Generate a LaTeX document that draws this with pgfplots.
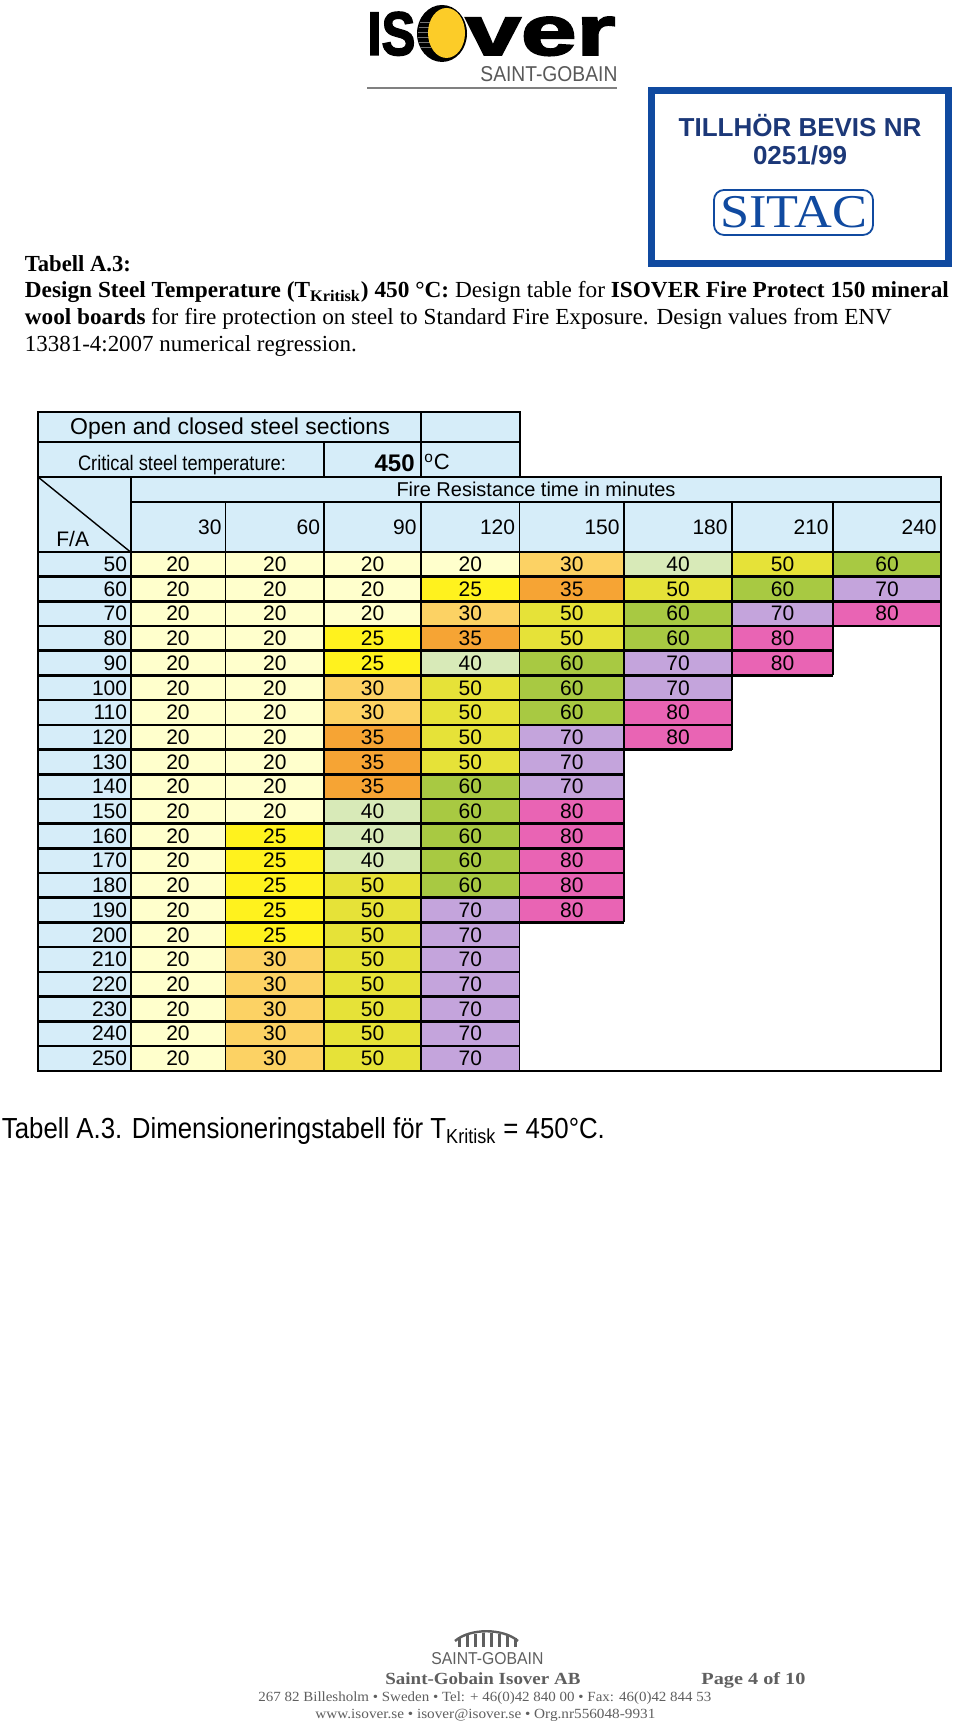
\documentclass[border=0pt]{standalone}
\usepackage{pgfplots}
\pgfplotsset{compat=1.18}
\usepackage{pgfplotstable}
\usepackage{graphicx}
\usepackage{fontspec}
\setmainfont{Liberation Serif}
\newfontfamily\arial{Liberation Sans}
\newfontfamily\logofont[BoldFeatures={FakeBold=2.5}]{Liberation Sans}
\newcommand\tabfont{\arial\fontsize{10.5}{12}\selectfont}

\definecolor{c20}{RGB}{255,255,204}
\definecolor{c25}{RGB}{255,242,30}
\definecolor{c30}{RGB}{252,210,100}
\definecolor{c35}{RGB}{246,164,52}
\definecolor{c40}{RGB}{216,234,184}
\definecolor{c50}{RGB}{230,226,56}
\definecolor{c60}{RGB}{168,201,66}
\definecolor{c70}{RGB}{196,164,220}
\definecolor{c80}{RGB}{233,100,180}
\definecolor{hdr}{RGB}{214,237,249}
\definecolor{sitacframe}{RGB}{16,74,160}
\definecolor{sitactext}{RGB}{28,56,120}
\definecolor{logoyellow}{RGB}{252,204,40}
\definecolor{footgray}{RGB}{95,95,95}

\pgfdeclareplotmark{hdrbox}{%
  \pgfsetfillcolor{hdr}%
  \pgfpathrectangle{\pgfqpoint{-\pgfplotmarksize}{-6.175pt}}{\pgfqpoint{2\pgfplotmarksize}{12.35pt}}%
  \pgfusepathqfill}

% F/A ; required board thickness for each fire resistance time (minutes)
\pgfplotstableread{
fa  c30 c60 c90 c120 c150 c180 c210 c240
50  20  20  20  20   30   40   50   60
60  20  20  20  25   35   50   60   70
70  20  20  20  30   50   60   70   80
80  20  20  25  35   50   60   80   nan
90  20  20  25  40   60   70   80   nan
100 20  20  30  50   60   70   nan  nan
110 20  20  30  50   60   80   nan  nan
120 20  20  35  50   70   80   nan  nan
130 20  20  35  50   70   nan  nan  nan
140 20  20  35  60   70   nan  nan  nan
150 20  20  40  60   80   nan  nan  nan
160 20  25  40  60   80   nan  nan  nan
170 20  25  40  60   80   nan  nan  nan
180 20  25  50  60   80   nan  nan  nan
190 20  25  50  70   80   nan  nan  nan
200 20  25  50  70   nan  nan  nan  nan
210 20  30  50  70   nan  nan  nan  nan
220 20  30  50  70   nan  nan  nan  nan
230 20  30  50  70   nan  nan  nan  nan
240 20  30  50  70   nan  nan  nan  nan
250 20  30  50  70   nan  nan  nan  nan
}\fire

\pgfplotsset{
  % each cell: a node filled with the colour named after its value, one row high, one column wide
  cellplot/.style={draw=none, mark=none, point meta=explicit symbolic, nodes near coords,
    every node near coord/.append style={anchor=center, font=\tabfont, text=black,
      inner sep=0pt, outer sep=0pt, fill=c\pgfplotspointmeta,
      minimum height=12.35pt, minimum width=#1}},
  gridh/.style={black, line width=1.3pt, unbounded coords=jump, mark=none, on layer=axis foreground},
  gridv/.style={black, line width=0.8pt, unbounded coords=jump, mark=none, on layer=axis foreground},
}

\begin{document}
\begin{tikzpicture}
\fill[white] (0,0) rectangle (480pt,861.5pt);
\begin{axis}[at={(0,0)}, anchor=south west, scale only axis, width=480pt, height=861.5pt,
  xmin=0, xmax=960, ymin=0, ymax=1723, y dir=reverse, hide axis, clip=false, set layers]

% ---------- ISOVER logo ----------
\node[anchor=base west, inner sep=0pt] at (axis cs:367,55) {\resizebox{24pt}{21.5pt}{\logofont\bfseries IS}};
\fill[black] (axis cs:442,33.5) ellipse [x radius=12.5pt, y radius=14.25pt];
\draw[black!55, line width=0.3pt]
  (axis cs:420,22) -- (axis cs:430,22) (axis cs:419,27) -- (axis cs:430,27)
  (axis cs:418,32) -- (axis cs:429,32) (axis cs:418,37) -- (axis cs:429,37)
  (axis cs:419,42) -- (axis cs:430,42) (axis cs:420,47) -- (axis cs:431,47);
\fill[logoyellow] (axis cs:446.5,33) ellipse [x radius=9.25pt, y radius=12.5pt];
\node[anchor=base west, inner sep=0pt] at (axis cs:465,55) {\resizebox{75pt}{19pt}{\logofont\bfseries ver}};
\node[anchor=base west, inner sep=0pt, text=black!65] at (axis cs:480,82) {\resizebox{68.5pt}{7.5pt}{\arial SAINT-GOBAIN}};
\draw[black!50, line width=1pt] (axis cs:367,88) -- (axis cs:617,88);

% ---------- SITAC stamp ----------
\draw[sitacframe, line width=3.5pt] (axis cs:651.5,90.5) rectangle (axis cs:948.5,263.5);
\node[anchor=base, inner sep=0pt, text=sitactext] at (axis cs:800,137) {\arial\bfseries\fontsize{13}{15}\selectfont TILLHÖR BEVIS NR};
\node[anchor=base, inner sep=0pt, text=sitactext] at (axis cs:800,165) {\arial\bfseries\fontsize{13}{15}\selectfont 0251/99};
\draw[sitacframe, line width=0.9pt, rounded corners=5pt] (axis cs:714,190) rectangle (axis cs:873,235);
\node[anchor=base, inner sep=0pt, text=sitacframe] at (axis cs:793.5,228) {\resizebox{73.5pt}{\height}{\fontsize{23.5}{25}\selectfont SITAC}};

% ---------- body text ----------
\node[anchor=base west, inner sep=0pt] at (axis cs:24.5,272) {\resizebox{53pt}{\height}{\fontsize{11.5}{13}\selectfont\bfseries Tabell A.3:}};
\node[anchor=base west, inner sep=0pt] at (axis cs:24.5,298) {\resizebox{462pt}{\height}{\fontsize{11.5}{13}\selectfont \textbf{Design Steel Temperature (T\textsubscript{Kritisk}) 450 °C:} Design table for \textbf{ISOVER Fire Protect 150 mineral}}};
\node[anchor=base west, inner sep=0pt] at (axis cs:24.5,325) {\resizebox{433.5pt}{\height}{\fontsize{11.5}{13}\selectfont \textbf{wool boards} for fire protection on steel to Standard Fire Exposure. Design values from ENV}};
\node[anchor=base west, inner sep=0pt] at (axis cs:24.5,352) {\resizebox{166pt}{\height}{\fontsize{11.5}{13}\selectfont 13381-4:2007 numerical regression.}};

% ---------- table header backgrounds ----------
\fill[hdr] (axis cs:38,412) rectangle (axis cs:519.5,477);
\fill[hdr] (axis cs:38,477) rectangle (axis cs:941,552);

\node[anchor=base, inner sep=0pt] at (axis cs:230,435) {\arial\fontsize{11.5}{13}\selectfont Open and closed steel sections};
\node[anchor=base, inner sep=0pt] at (axis cs:182,471) {\resizebox{104pt}{\height}{\arial\fontsize{10.5}{12}\selectfont Critical steel temperature:}};
\node[anchor=base east, inner sep=0pt] at (axis cs:415,472) {\arial\bfseries\fontsize{12}{14}\selectfont 450};
\node[anchor=base west, inner sep=0pt] at (axis cs:424,470) {\arial\fontsize{11}{13}\selectfont\textsuperscript{o}C};
\node[anchor=base, inner sep=0pt] at (axis cs:536,497) {\arial\fontsize{10}{12}\selectfont Fire Resistance time in minutes};
\node[anchor=base west, inner sep=0pt] at (axis cs:56,547) {\tabfont F/A};

% column headings (minutes)
\addplot[draw=none, mark=none, point meta=explicit symbolic, nodes near coords,
  every node near coord/.append style={anchor=east, font=\tabfont, text=black, inner sep=0pt}]
  coordinates {(222,527.5)[30] (320.5,527.5)[60] (417,527.5)[90] (515.5,527.5)[120]
               (620,527.5)[150] (728,527.5)[180] (829,527.5)[210] (937,527.5)[240]};

% F/A column
\addplot[only marks, mark=hdrbox, mark size=23.125pt,
  point meta=explicit symbolic, nodes near coords,
  every node near coord/.append style={anchor=east, xshift=21.625pt, font=\tabfont, text=black, inner sep=0pt}]
  table[x expr=84.25, y expr={552+2.47*(\thisrow{fa}-45)}, meta=fa] {\fire};

% data cells
\addplot[cellplot=47.5pt] table[x expr=178, y expr={552+2.47*(\thisrow{fa}-45)}, meta=c30] {\fire};
\addplot[cellplot=49.25pt] table[x expr=274.75, y expr={552+2.47*(\thisrow{fa}-45)}, meta=c60] {\fire};
\addplot[cellplot=48.5pt] table[x expr=372.5, y expr={552+2.47*(\thisrow{fa}-45)}, meta=c90] {\fire};
\addplot[cellplot=49.25pt] table[x expr=470.25, y expr={552+2.47*(\thisrow{fa}-45)}, meta=c120] {\fire};
\addplot[cellplot=52.25pt, skip coords between index={15}{21}] table[x expr=571.75, y expr={552+2.47*(\thisrow{fa}-45)}, meta=c150] {\fire};
\addplot[cellplot=54pt, skip coords between index={8}{21}] table[x expr=678, y expr={552+2.47*(\thisrow{fa}-45)}, meta=c180] {\fire};
\addplot[cellplot=50.5pt, skip coords between index={5}{21}] table[x expr=782.5, y expr={552+2.47*(\thisrow{fa}-45)}, meta=c210] {\fire};
\addplot[cellplot=54pt, skip coords between index={3}{21}] table[x expr=887, y expr={552+2.47*(\thisrow{fa}-45)}, meta=c240] {\fire};

% row rules
\addplot[gridh] coordinates {
(38,552)(941,552) (nan,nan)
(38,576.7)(941,576.7) (nan,nan)
(38,601.4)(941,601.4) (nan,nan)
(38,626.1)(941,626.1) (nan,nan)
(38,650.8)(833,650.8) (nan,nan)
(38,675.5)(833,675.5) (nan,nan)
(38,700.2)(732,700.2) (nan,nan)
(38,724.9)(732,724.9) (nan,nan)
(38,749.6)(732,749.6) (nan,nan)
(38,774.3)(624,774.3) (nan,nan)
(38,799)(624,799) (nan,nan)
(38,823.7)(624,823.7) (nan,nan)
(38,848.4)(624,848.4) (nan,nan)
(38,873.1)(624,873.1) (nan,nan)
(38,897.8)(624,897.8) (nan,nan)
(38,922.5)(624,922.5) (nan,nan)
(38,947.2)(519.5,947.2) (nan,nan)
(38,971.9)(519.5,971.9) (nan,nan)
(38,996.6)(519.5,996.6) (nan,nan)
(38,1021.3)(519.5,1021.3) (nan,nan)
(38,1046)(519.5,1046)
};
% column rules
\addplot[gridv] coordinates {
(225.5,502)(225.5,1070.7) (nan,nan)
(324,502)(324,1070.7) (nan,nan)
(421,502)(421,1070.7) (nan,nan)
(519.5,502)(519.5,1070.7) (nan,nan)
(624,502)(624,922.5) (nan,nan)
(732,502)(732,749.6) (nan,nan)
(833,502)(833,675.5)
};

% header frame
\begin{pgfonlayer}{axis foreground}
\draw[black, line width=1pt] (axis cs:38,412) rectangle (axis cs:519.5,477);
\draw[black, line width=1pt] (axis cs:38,442) -- (axis cs:519.5,442);
\draw[black, line width=1pt] (axis cs:421,412) -- (axis cs:421,477);
\draw[black, line width=1pt] (axis cs:324,442) -- (axis cs:324,477);
\draw[black, line width=1.1pt] (axis cs:38,477) rectangle (axis cs:941,1070.7);
\draw[black, line width=1pt] (axis cs:130.5,502) -- (axis cs:941,502);
\draw[black, line width=1pt] (axis cs:130.5,477) -- (axis cs:130.5,1070.7);
\draw[black, line width=0.7pt] (axis cs:38,477) -- (axis cs:130.5,552);
\end{pgfonlayer}

% ---------- caption ----------
\node[anchor=base west, inner sep=0pt] at (axis cs:1.5,1139) {\resizebox{301.5pt}{\height}{\arial\fontsize{14.5}{16}\selectfont Tabell A.3. Dimensioneringstabell för T\textsubscript{Kritisk} = 450°C.}};

% ---------- footer ----------
\draw[footgray, line width=1.2pt] (axis cs:455,1641) .. controls (axis cs:470,1628) and (axis cs:503,1628) .. (axis cs:518,1641);
\draw[footgray, line width=1.5pt]
  (axis cs:459,1638) -- (axis cs:459,1647)
  (axis cs:467,1635) -- (axis cs:467,1647)
  (axis cs:475,1634) -- (axis cs:475,1647)
  (axis cs:483,1633) -- (axis cs:483,1647)
  (axis cs:491,1633) -- (axis cs:491,1647)
  (axis cs:499,1634) -- (axis cs:499,1647)
  (axis cs:507,1635) -- (axis cs:507,1647)
  (axis cs:515,1638) -- (axis cs:515,1647);
\node[anchor=base west, inner sep=0pt, text=footgray] at (axis cs:431,1665) {\resizebox{56pt}{6pt}{\arial SAINT-GOBAIN}};
\node[anchor=base west, inner sep=0pt, text=footgray] at (axis cs:385,1685) {\resizebox{97.5pt}{\height}{\bfseries\fontsize{8.5}{10}\selectfont Saint-Gobain Isover AB}};
\node[anchor=base west, inner sep=0pt, text=footgray] at (axis cs:701,1685) {\resizebox{52pt}{\height}{\bfseries\fontsize{8.5}{10}\selectfont Page 4 of 10}};
\node[anchor=base west, inner sep=0pt, text=footgray] at (axis cs:258,1702) {\resizebox{226.5pt}{\height}{\fontsize{7}{8}\selectfont 267 82 Billesholm • Sweden • Tel: + 46(0)42 840 00 • Fax: 46(0)42 844 53}};
\node[anchor=base west, inner sep=0pt, text=footgray] at (axis cs:315,1719) {\resizebox{170pt}{\height}{\fontsize{7}{8}\selectfont www.isover.se • isover@isover.se • Org.nr556048-9931}};

\end{axis}
\pgfresetboundingbox
\path[use as bounding box] (0,0) rectangle (480pt,861.5pt);
\end{tikzpicture}
\end{document}
